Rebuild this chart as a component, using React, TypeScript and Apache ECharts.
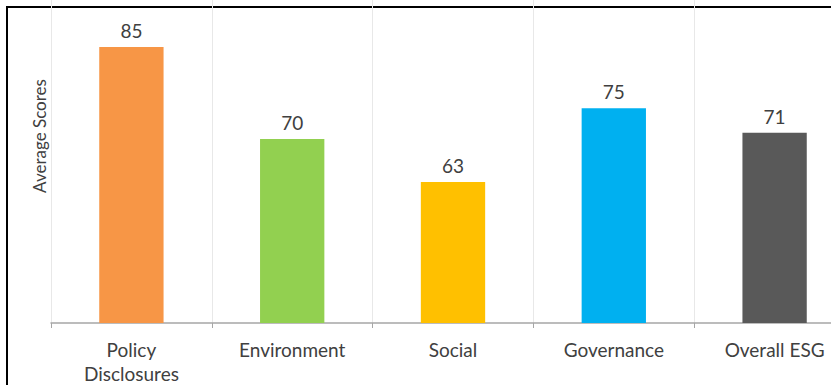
import React, { useEffect, useRef } from "react";
import * as echarts from "echarts";

const categories = ["Policy\nDisclosures", "Environment", "Social", "Governance", "Overall ESG"];
const scores = [85, 70, 63, 75, 71];
const barColors = ["#F79646", "#92D050", "#FFC000", "#00B0F0", "#595959"];
const yAxisTitle = "Average Scores";

const OFFSET_TOP = 45;
const EXTRA_RIGHT = 24;

export default function App() {
  const ref = useRef<HTMLDivElement>(null);
  useEffect(() => {
    if (!ref.current) return;
    const chart = echarts.init(ref.current, null, { renderer: "svg" });
    chart.setOption({
      animation: false,
      backgroundColor: "#ffffff",
      grid: { left: 51, right: 0, top: 0, bottom: 61, containLabel: false },
      xAxis: {
        type: "category",
        data: categories,
        axisLine: { show: true, lineStyle: { color: "#a6a6a6", width: 1.5 } },
        axisTick: { show: true, length: 5, lineStyle: { color: "#a6a6a6" } },
        splitLine: { show: true, lineStyle: { color: "#e8e8e8", width: 1 } },
        axisLabel: {
          color: "#404040",
          fontFamily: "Lato",
          fontSize: 19,
          lineHeight: 24,
          margin: 14,
          interval: 0,
        },
      },
      yAxis: {
        type: "value",
        min: 40,
        max: 100,
        interval: 10,
        axisLine: { show: false },
        axisTick: { show: false },
        axisLabel: { show: false },
        splitLine: { show: false },
      },
      series: [
        {
          type: "bar",
          barWidth: "40%",
          data: scores.map((v, i) => ({ value: v, itemStyle: { color: barColors[i] } })),
          label: {
            show: true,
            position: "top",
            distance: 7,
            color: "#404040",
            fontFamily: "Lato",
            fontSize: 19,
          },
        },
      ],
      graphic: [
        {
          type: "text",
          x: 39,
          y: 136 + OFFSET_TOP,
          rotation: Math.PI / 2,
          style: {
            text: yAxisTitle,
            fill: "#404040",
            font: "17px Lato",
            align: "center",
            verticalAlign: "middle",
          },
        },
        { type: "rect", shape: { x: 6, y: 6 + OFFSET_TOP, width: 2, height: 379 }, style: { fill: "#000" } },
        { type: "rect", shape: { x: 6, y: 6 + OFFSET_TOP, width: 825 + EXTRA_RIGHT, height: 2 }, style: { fill: "#000" } },
      ],
    });
    return () => chart.dispose();
  }, []);
  return (
    <div style={{ position: "absolute", left: 0, top: 0, width: 831, height: 385, overflow: "hidden" }}>
      <div
        ref={ref}
        style={{
          position: "absolute",
          left: 0,
          top: -OFFSET_TOP,
          width: 831 + EXTRA_RIGHT,
          height: 385 + OFFSET_TOP,
        }}
      />
    </div>
  );
}
